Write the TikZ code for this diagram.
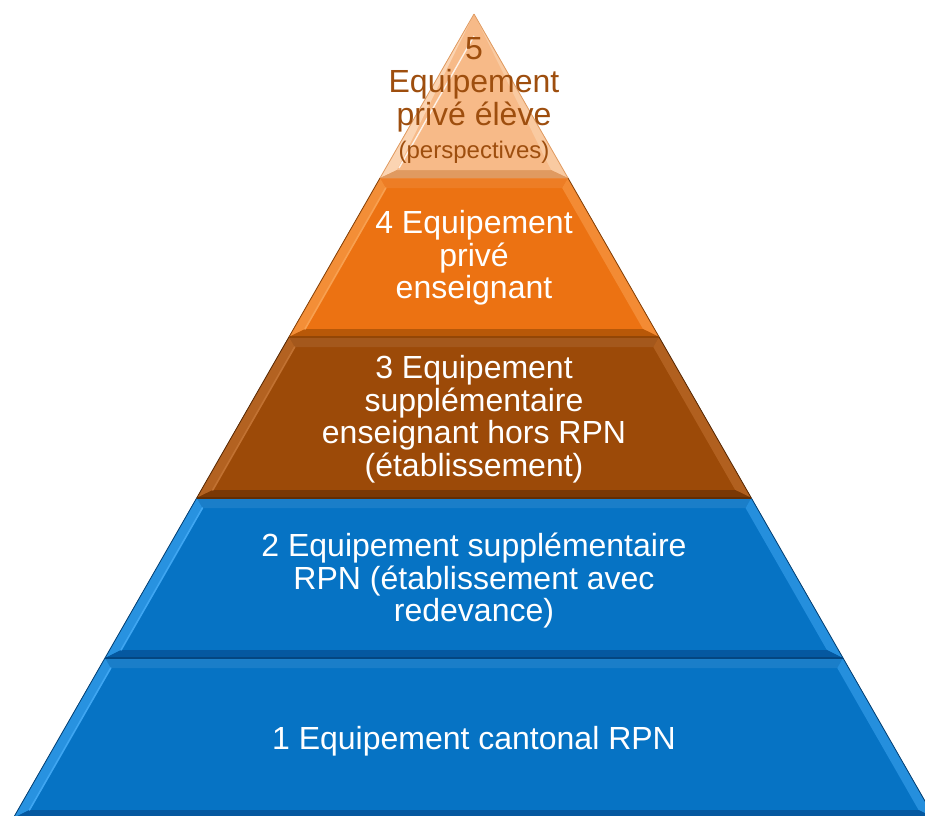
\documentclass[tikz,border=0pt]{standalone}
\usepackage{fontspec}
\setmainfont{Liberation Sans}
\definecolor{topmain}{HTML}{F7BA88}
\definecolor{toplight}{HTML}{FBD4B2}
\definecolor{topdark}{HTML}{E09A60}
\definecolor{toptext}{HTML}{9E4E0E}
\definecolor{ormain}{HTML}{EC7212}
\definecolor{orlight}{HTML}{F8A050}
\definecolor{ordark}{HTML}{B85808}
\definecolor{brmain}{HTML}{9C4A08}
\definecolor{brlight}{HTML}{C27232}
\definecolor{brdark}{HTML}{7A3804}
\definecolor{blmain}{HTML}{0673C4}
\definecolor{bllight}{HTML}{3FA6F2}
\definecolor{bldark}{HTML}{0558A0}
\tikzset{
  lbl/.style={text=white, align=center, font=\fontsize{32}{32.5}\selectfont, inner sep=0pt},
  toplbl/.style={text=toptext, align=center, font=\fontsize{32}{33}\selectfont, inner sep=0pt}
}
% layer: top y, bottom y, main, light, dark
\newcommand\pyrlayer[5]{%
  \pgfmathsetmacro\pyTL{474-0.573*(#1-14)}%
  \pgfmathsetmacro\pyTR{474+0.573*(#1-14)}%
  \pgfmathsetmacro\pyBL{474-0.573*(#2-14)}%
  \pgfmathsetmacro\pyBR{474+0.573*(#2-14)}%
  \pgfmathsetmacro\pyti{#1+10}%
  \pgfmathsetmacro\pybi{#2-8}%
  \pgfmathsetmacro\pyTLi{474-0.573*(\pyti-14)+11.5}%
  \pgfmathsetmacro\pyTRi{474+0.573*(\pyti-14)-11.5}%
  \pgfmathsetmacro\pyBLi{474-0.573*(\pybi-14)+11.5}%
  \pgfmathsetmacro\pyBRi{474+0.573*(\pybi-14)-11.5}%
  \fill[#3] (\pyTL,#1) -- (\pyTR,#1) -- (\pyBR,#2) -- (\pyBL,#2) -- cycle;
  \fill[#3!92!white] (\pyTL,#1) -- (\pyTR,#1) -- (\pyTRi,\pyti) -- (\pyTLi,\pyti) -- cycle;
  \fill[#4!60!#3] (\pyTL,#1) -- (\pyTLi,\pyti) -- (\pyBLi,\pybi) -- (\pyBL,#2) -- cycle;
  \fill[#4!55!#3] (\pyTR,#1) -- (\pyTRi,\pyti) -- (\pyBRi,\pybi) -- (\pyBR,#2) -- cycle;
  \fill[#5] (\pyBL,#2) -- (\pyBLi,\pybi) -- (\pyBRi,\pybi) -- (\pyBR,#2) -- cycle;
  \draw[#4, line width=1.6pt, line cap=round] (\pyTLi,\pyti) -- (\pyBLi,\pybi);
  \draw[#5!70!black, line width=0.8pt] (\pyTL,#1) -- (\pyBL,#2);
  \draw[#5!70!black, line width=0.8pt] (\pyTR,#1) -- (\pyBR,#2);
  \draw[#5!80!black, line width=1.2pt] (\pyBL,#2) -- (\pyBR,#2);
}
\begin{document}
\begin{tikzpicture}[x=1pt,y=-1pt]
\useasboundingbox (0,0) rectangle (925,815);
\fill[white] (0,0) rectangle (925,815);
\begin{scope}
\clip (0,0) rectangle (925,815);
\pyrlayer{658}{818}{blmain}{bllight}{bldark}
\pyrlayer{498}{658}{blmain}{bllight}{bldark}
\pyrlayer{337}{498}{brmain}{brlight}{brdark}
\pyrlayer{178}{337}{ormain}{orlight}{ordark}
% top triangle
\fill[topmain] (474,14) -- (568,178) -- (380,178) -- cycle;
\fill[toplight] (474,14) -- (397,170) -- (380,178) -- cycle;
\fill[toplight!60!topmain] (474,14) -- (568,178) -- (551,170) -- cycle;
\fill[topdark] (380,178) -- (397,170) -- (551,170) -- (568,178) -- cycle;
\fill[topmain] (474,34) -- (551,170) -- (397,170) -- cycle;
\draw[white!70!toplight, line width=1.4pt] (474,36) -- (399,168);
\draw[topdark, line width=0.8pt] (474,14) -- (380,178);
\draw[topdark, line width=0.8pt] (474,14) -- (568,178);
\end{scope}
% texts
\node[toplbl] (t5) at (474,100) {5\\Equipement\\privé élève\\{\fontsize{24}{26}\selectfont(perspectives)}};
\node[lbl] (t4) at (474,258) {4 Equipement\\privé\\enseignant};
\node[lbl] (t3) at (474,419) {3 Equipement\\supplémentaire\\enseignant hors RPN\\(établissement)};
\node[lbl] (t2) at (474,581) {2 Equipement supplémentaire\\RPN (établissement avec\\redevance)};
\node[lbl] (t1) at (474,741) {1 Equipement cantonal RPN};
\end{tikzpicture}
\end{document}
